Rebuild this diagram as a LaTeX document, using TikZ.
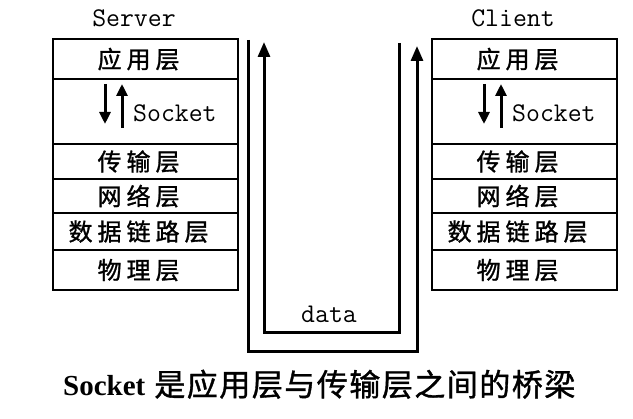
\documentclass[tikz,border=0pt]{standalone}
\usepackage{fontspec}
\setmainfont{Liberation Serif}
\newfontfamily\cjk[FakeBold=1.2]{Noto Sans CJK SC}
\newfontfamily\cjkrow[FakeBold=1.2]{Noto Sans CJK SC}
\usetikzlibrary{arrows.meta}

\newcommand\rg{\kern5pt\relax}
\newcommand\cg{\kern1.5pt\relax}

\tikzset{
  layer/.style={draw, line width=2.2pt, minimum width=185pt, minimum height=#1,
    anchor=north west, inner sep=0pt, font=\cjkrow\fontsize{24}{24}\selectfont},
  title/.style={anchor=base, inner sep=0pt, font=\ttfamily\fontsize{27}{27}\selectfont\addfontfeature{FakeBold=1.5}},
  socklbl/.style={anchor=base west, inner sep=0pt, font=\ttfamily\fontsize{27}{27}\selectfont\addfontfeature{FakeBold=1.5}},
  sarrow/.style={line width=3pt, -{Triangle[width=11pt,length=12pt]}},
  flow/.style={line width=3pt, -{Triangle[width=12pt,length=15pt]}},
  caption/.style={anchor=base west, inner sep=0pt, font=\fontsize{29}{29}\selectfont\bfseries},
}

\newcommand\drawstack[3]{%
  \begin{scope}[xshift=#2]
    \node[title] (#1T) at (134,27) {#3};
    \node[layer=40pt] (#1App) at (52,38) {应\rg 用\rg 层\kern14pt};
    \node[layer=65pt] (#1Sock) at (52,78) {};
    \node[layer=35pt] (#1Trans) at (52,143) {传\rg 输\rg 层\kern14pt};
    \node[layer=34pt] (#1Net) at (52,178) {网\rg 络\rg 层\kern14pt};
    \node[layer=37pt] (#1Link) at (52,212) {数\rg 据\rg 链\rg 路\rg 层\kern14pt};
    \node[layer=40pt] (#1Phy) at (52,249) {物\rg 理\rg 层\kern14pt};
    \coordinate (#1a1) at (105,84);
    \coordinate (#1a2) at (105,124);
    \coordinate (#1b1) at (122,128);
    \coordinate (#1b2) at (122,84);
    \draw[sarrow] (#1a1) -- (#1a2);
    \draw[sarrow] (#1b1) -- (#1b2);
    \node[socklbl] (#1SL) at (133,122) {Socket};
  \end{scope}}

\begin{document}
\begin{tikzpicture}[x=1pt,y=-1pt]
\useasboundingbox[fill=white] (0,0) rectangle (633,419);

\drawstack{s}{0pt}{Server}
\drawstack{c}{379pt}{Client}

% data flow
\coordinate (oStart) at (248,40);
\coordinate (oCorner) at (248,352);
\coordinate (oEnd) at (417,46);
\draw[flow] (oStart) -- (oCorner) -| (oEnd);

\coordinate (iStart) at (399,43);
\coordinate (iCorner) at (399,333);
\coordinate (iEnd) at (264,42);
\draw[flow] (iStart) -- (iCorner) -| (iEnd);

\node[title] (data) at (329,323) {data};

\node[caption] (cap) at (63,396) {Socket\kern9pt{\cjk\mdseries\fontsize{31}{31}\selectfont 是\cg 应\cg 用\cg 层\cg 与\cg 传\cg 输\cg 层\cg 之\cg 间\cg 的\cg 桥\cg 梁}};
\end{tikzpicture}
\end{document}
